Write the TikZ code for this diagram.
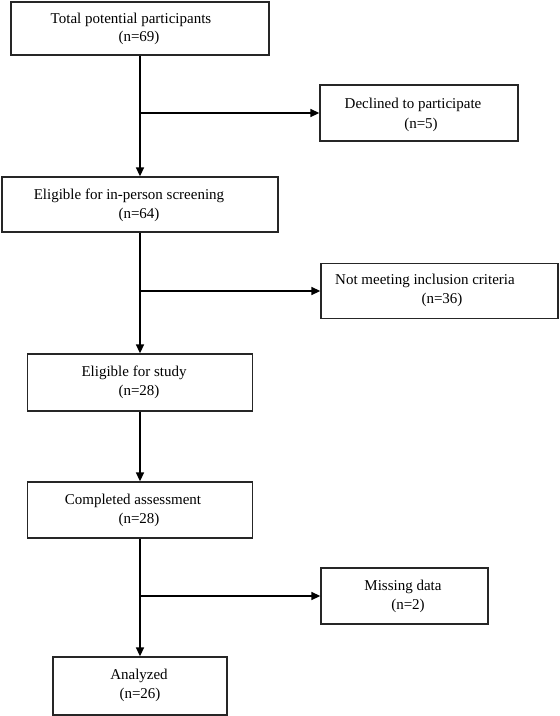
\documentclass[tikz,border=0pt]{standalone}
\usepackage{fontspec}
\setmainfont{Liberation Serif}
\usetikzlibrary{arrows.meta}
\begin{document}
\begin{tikzpicture}[x=1pt,y=-1pt,
  box/.style={draw=black!85, line width=1.3pt, rectangle, inner sep=0pt},
  lbl/.style={font=\fontsize{15}{18}\selectfont, inner sep=0pt, anchor=base},
  arr/.style={line width=1.5pt, -{Triangle[length=9pt,width=8pt]}}]
\useasboundingbox (0,0) rectangle (560,716);
% boxes
\node[box, minimum width=258pt, minimum height=53pt] (n1) at (140,28.5) {};
\node[box, minimum width=198pt, minimum height=56pt] (n2) at (419,113) {};
\node[box, minimum width=276pt, minimum height=55pt] (n3) at (140,204.5) {};
\node[box, minimum width=237pt, minimum height=55pt] (n4) at (439.5,291) {};
\node[box, minimum width=225pt, minimum height=57pt] (n5) at (140,382.5) {};
\node[box, minimum width=225pt, minimum height=56pt] (n6) at (140,510) {};
\node[box, minimum width=167pt, minimum height=56pt] (n7) at (404.5,596) {};
\node[box, minimum width=174pt, minimum height=58pt] (n8) at (140,686) {};
% texts
\node[lbl] (t1a) at (131,23) {Total potential participants};
\node[lbl] (t1b) at (139,41) {(n=69)};
\node[lbl] (t2a) at (413,108) {Declined to participate};
\node[lbl] (t2b) at (421,128) {(n=5)};
\node[lbl] (t3a) at (129,199) {Eligible for in-person screening};
\node[lbl] (t3b) at (139,218) {(n=64)};
\node[lbl] (t4a) at (425,284) {Not meeting inclusion criteria};
\node[lbl] (t4b) at (442,303) {(n=36)};
\node[lbl] (t5a) at (134,376) {Eligible for study};
\node[lbl] (t5b) at (139,395) {(n=28)};
\node[lbl] (t6a) at (133,504) {Completed assessment};
\node[lbl] (t6b) at (139,523) {(n=28)};
\node[lbl] (t7a) at (403,590) {Missing data};
\node[lbl] (t7b) at (408,609) {(n=2)};
\node[lbl] (t8a) at (139,679) {Analyzed};
\node[lbl] (t8b) at (140,698) {(n=26)};
% connectors
\coordinate (j1) at (n1.south |- n2.west);
\coordinate (j2) at (n3.south |- n4.west);
\coordinate (j3) at (n6.south |- n7.west);
\draw[arr] (n1.south) -- (n3.north);
\draw[arr] (j1) -- (n2.west);
\draw[arr] (n3.south) -- (n5.north);
\draw[arr] (j2) -- (n4.west);
\draw[arr] (n5.south) -- (n6.north);
\draw[arr] (n6.south) -- (n8.north);
\draw[arr] (j3) -- (n7.west);
\end{tikzpicture}
\end{document}
